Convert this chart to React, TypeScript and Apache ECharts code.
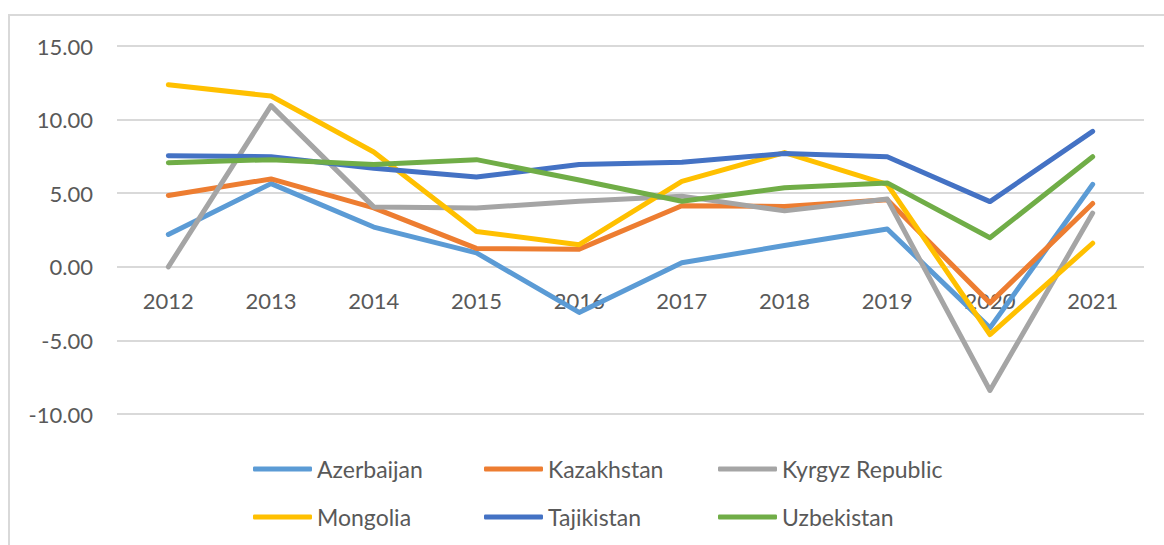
import React, { useEffect, useRef } from "react";
import * as echarts from "echarts";

const years = ["2012", "2013", "2014", "2015", "2016", "2017", "2018", "2019", "2020", "2021"];
const azerbaijan = [2.2, 5.65, 2.7, 0.95, -3.1, 0.27, 1.45, 2.57, -4.15, 5.6];
const kazakhstan = [4.85, 5.97, 4.0, 1.25, 1.2, 4.15, 4.1, 4.55, -2.45, 4.3];
const kyrgyz = [0.0, 10.95, 4.07, 4.0, 4.45, 4.8, 3.8, 4.6, -8.4, 3.65];
const mongolia = [12.37, 11.6, 7.8, 2.4, 1.5, 5.8, 7.76, 5.6, -4.6, 1.6];
const tajikistan = [7.55, 7.48, 6.7, 6.1, 6.95, 7.1, 7.69, 7.48, 4.43, 9.2];
const uzbekistan = [7.07, 7.28, 6.95, 7.28, 5.9, 4.45, 5.37, 5.7, 1.97, 7.48];

const seriesDefs = [
  { name: "Azerbaijan", data: azerbaijan, color: "#5B9BD5" },
  { name: "Kazakhstan", data: kazakhstan, color: "#ED7D31" },
  { name: "Kyrgyz Republic", data: kyrgyz, color: "#A5A5A5" },
  { name: "Mongolia", data: mongolia, color: "#FFC000" },
  { name: "Tajikistan", data: tajikistan, color: "#4472C4" },
  { name: "Uzbekistan", data: uzbekistan, color: "#70AD47" },
];

const FONT = "Lato";
const TEXT = "#595959";
const GRID = "#D9D9D9";

export default function App() {
  const ref = useRef<HTMLDivElement>(null);
  useEffect(() => {
    if (!ref.current) return;
    const chart = echarts.init(ref.current, undefined, { renderer: "svg" });
    const legendCommon = {
      orient: "vertical",
      top: 456,
      padding: 0,
      itemGap: 22,
      itemWidth: 59,
      itemHeight: 5,
      icon: "roundRect",
      textStyle: { fontFamily: FONT, fontSize: 23, color: TEXT, lineHeight: 26, padding: [0, 0, 0, 0] },
    };
    chart.setOption({
      animation: false,
      backgroundColor: "#fff",
      graphic: [
        {
          type: "rect",
          shape: { x: 9, y: 15, width: 1300, height: 700 },
          style: { fill: "none", stroke: GRID, lineWidth: 2 },
          silent: true,
        },
      ],
      grid: { left: 117, right: 20, top: 46, bottom: 131, containLabel: false },
      legend: [
        { ...legendCommon, left: 253, data: ["Azerbaijan", "Mongolia"] },
        { ...legendCommon, left: 484, data: ["Kazakhstan", "Tajikistan"] },
        { ...legendCommon, left: 718, data: ["Kyrgyz Republic", "Uzbekistan"] },
      ],
      xAxis: {
        type: "category",
        data: years,
        boundaryGap: true,
        offset: -147,
        axisLine: { show: false, onZero: false },
        axisTick: { show: false },
        axisLabel: { fontFamily: FONT, fontSize: 22, color: TEXT, margin: 22 },
        splitLine: { show: false },
      },
      yAxis: {
        type: "value",
        min: -10,
        max: 15,
        interval: 5,
        axisLine: { show: false },
        axisTick: { show: false },
        axisLabel: {
          fontFamily: FONT,
          fontSize: 22,
          color: TEXT,
          margin: 24,
          formatter: (v: number) => v.toFixed(2),
        },
        splitLine: { show: true, lineStyle: { color: GRID, width: 2 } },
      },
      series: seriesDefs.map((s) => ({
        name: s.name,
        type: "line",
        data: s.data,
        symbol: "none",
        color: s.color,
        lineStyle: { width: 5, color: s.color, cap: "round", join: "round" },
      })),
    });
    return () => chart.dispose();
  }, []);
  return (
    <div
      ref={ref}
      style={{ position: "fixed", left: 0, top: 0, width: 1164, height: 545 }}
    />
  );
}
